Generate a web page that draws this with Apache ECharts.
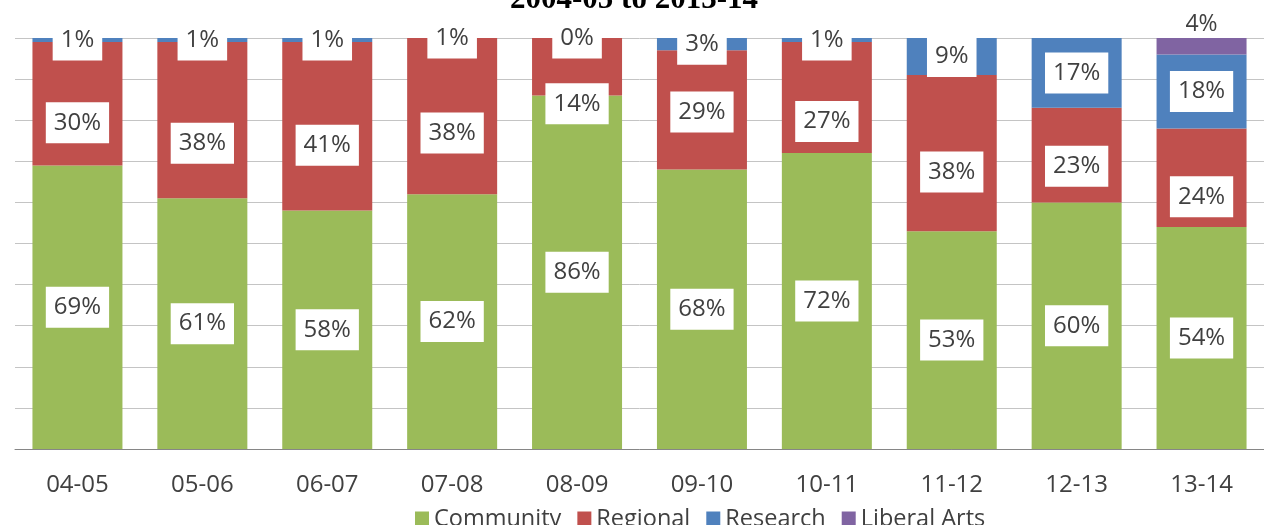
<!DOCTYPE html>
<html>
<head>
<meta charset="utf-8">
<script src="https://cdn.jsdelivr.net/npm/echarts@6/dist/echarts.min.js"></script>
<style>
  html, body { margin: 0; padding: 0; background: #fff; }
  #main { width: 1264px; height: 525px; }
</style>
</head>
<body>
<div id="main"></div>
<script>
// school years
var years = ['04-05', '05-06', '06-07', '07-08', '08-09', '09-10', '10-11', '11-12', '12-13', '13-14'];
// share of each type (%)
var community = [69, 61, 58, 62, 86, 68, 72, 53, 60, 54];
var regional = [30, 38, 41, 38, 14, 29, 27, 38, 23, 24];
var research = [1, 1, 1, 1, 0, 3, 1, 9, 17, 18];
var liberalArts = [null, null, null, null, null, null, null, null, null, 4];

// label nudges (px down) for the regional labels, as placed in the original
var regionalShift = [19, 23, 19, 17, 37, 2, 24, 19, 11, 19];

var labelBox = {
    show: true,
    position: 'inside',
    formatter: '{c}%',
    color: '#404040',
    fontFamily: 'Open Sans',
    fontSize: 24,
    lineHeight: 28,
    backgroundColor: '#fff',
    padding: [7, 8, 6, 8]
};

var myChart = echarts.init(document.getElementById('main'));

myChart.setOption({
    animation: false,
    title: {
        text: '2004-05 to 2013-14',
        left: 505,
        top: -21,
        textStyle: {
            fontFamily: 'Liberation Serif',
            fontWeight: 'bold',
            fontSize: 31,
            color: '#000'
        }
    },
    legend: {
        left: 410,
        top: 502,
        icon: 'rect',
        itemWidth: 14,
        itemHeight: 15,
        itemGap: 16,
        textStyle: { fontFamily: 'Open Sans', fontSize: 23.5, color: '#404040' },
        data: ['Community', 'Regional', 'Research', 'Liberal Arts']
    },
    grid: { left: 15, top: 38, width: 1255, height: 411 },
    xAxis: {
        type: 'category',
        data: years,
        axisLine: { lineStyle: { color: '#868686' } },
        axisTick: { length: 6, lineStyle: { color: '#868686' } },
        axisLabel: { fontFamily: 'Open Sans', fontSize: 24, color: '#404040', margin: 24 }
    },
    yAxis: {
        type: 'value',
        min: 0,
        max: 100,
        interval: 10,
        axisLabel: { show: false },
        axisLine: { show: false },
        axisTick: { show: false },
        splitLine: { lineStyle: { color: '#c4c4c4' } }
    },
    series: [
        {
            name: 'Community', type: 'bar', stack: 'total', barWidth: 90,
            itemStyle: { color: '#9BBB59' },
            label: labelBox,
            data: community
        },
        {
            name: 'Regional', type: 'bar', stack: 'total', barWidth: 90,
            itemStyle: { color: '#C0504D' },
            label: labelBox,
            data: regional.map(function (v, i) {
                return { value: v, label: { offset: [0, regionalShift[i]] } };
            })
        },
        {
            name: 'Research', type: 'bar', stack: 'total', barWidth: 90,
            itemStyle: { color: '#4F81BD' },
            label: labelBox,
            data: research
        },
        {
            name: 'Liberal Arts', type: 'bar', stack: 'total', barWidth: 90,
            itemStyle: { color: '#8064A2' },
            label: {
                show: true,
                position: 'top',
                distance: 2,
                formatter: '{c}%',
                color: '#404040',
                fontFamily: 'Open Sans',
                fontSize: 23
            },
            data: liberalArts
        }
    ]
});
</script>
</body>
</html>
